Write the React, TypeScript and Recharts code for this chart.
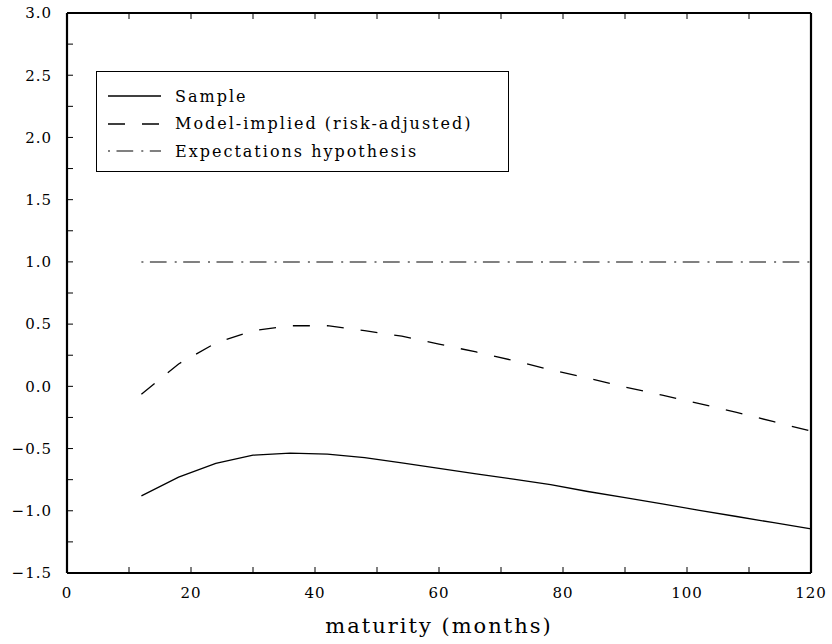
import { LineChart, Line, XAxis, YAxis, Legend } from "recharts";

const MATURITY = [12, 18, 24, 30, 36, 42, 48, 54, 60, 66, 72, 78, 84, 90, 96, 102, 108, 114, 120];
const SAMPLE = [-0.88, -0.73, -0.62, -0.553, -0.537, -0.545, -0.573, -0.615, -0.66, -0.704, -0.745, -0.79, -0.845, -0.895, -0.945, -0.996, -1.046, -1.096, -1.146];
const MODEL = [-0.063, 0.18, 0.348, 0.447, 0.487, 0.487, 0.447, 0.403, 0.339, 0.276, 0.207, 0.133, 0.066, -0.006, -0.071, -0.139, -0.21, -0.284, -0.36];
const EXPECTATIONS = [1, 1, 1, 1, 1, 1, 1, 1, 1, 1, 1, 1, 1, 1, 1, 1, 1, 1, 1];

const X_TICKS = [0, 10, 20, 30, 40, 50, 60, 70, 80, 90, 100, 110, 120];
const Y_TICKS = [-1.5, -1.25, -1, -0.75, -0.5, -0.25, 0, 0.25, 0.5, 0.75, 1, 1.25, 1.5, 1.75, 2, 2.25, 2.5, 2.75, 3];

const SERIES = [
  { key: "sample", name: "Sample", color: "#000", width: 1.3, dash: undefined as string | undefined },
  { key: "model", name: "Model-implied (risk-adjusted)", color: "#000", width: 1.3, dash: "17 17" },
  { key: "eh", name: "Expectations hypothesis", color: "#808080", width: 2, dash: "2 6.5 16.7 8.1" },
];

const FONT = "'DejaVu Serif', serif";

const data = MATURITY.map((m, i) => ({
  m,
  sample: SAMPLE[i],
  model: MODEL[i],
  eh: EXPECTATIONS[i],
}));

const fmtX = (v: number) => (v % 20 === 0 ? String(v) : "");
const fmtY = (v: number) =>
  Math.abs(v * 2 - Math.round(v * 2)) < 1e-9 ? v.toFixed(1).replace("-", "\u2212") : "";
const blank = () => "";

const axisLine = { stroke: "#000", strokeWidth: 2.2 };
const tickLine = { stroke: "#000", strokeWidth: 1 };
const tickStyle = { fill: "#000", fontSize: 15, fontFamily: FONT, letterSpacing: 1 };

function LegendBox() {
  return (
    <div
      style={{
        width: 411,
        height: 99,
        border: "1px solid #000",
        background: "#fff",
        fontFamily: FONT,
        fontSize: 16,
        letterSpacing: 2,
        color: "#000",
        position: "relative",
      }}
    >
      {SERIES.map((s, i) => (
        <div
          key={s.key}
          style={{ position: "absolute", left: 10, top: 14 + i * 27.5, height: 20, display: "flex", alignItems: "center" }}
        >
          <svg width={56} height={20}>
            <line x1={1} y1={10} x2={54} y2={10} stroke={s.color} strokeWidth={s.width} strokeDasharray={s.dash} />
          </svg>
          <span style={{ marginLeft: 12, whiteSpace: "nowrap" }}>{s.name}</span>
        </div>
      ))}
    </div>
  );
}

export default function App() {
  return (
    <div style={{ position: "absolute", left: 0, top: 0, width: 832, height: 644, background: "#fff" }}>
      <LineChart width={832} height={644} data={data} margin={{ top: 12, right: 20, bottom: 41, left: 0 }}>
        <XAxis
          dataKey="m"
          type="number"
          domain={[0, 120]}
          ticks={X_TICKS}
          tickFormatter={fmtX}
          stroke="#000"
          tickSize={-6}
          tickMargin={20}
          height={30}
          axisLine={axisLine}
          tickLine={tickLine}
          tick={tickStyle}
          interval={0}
          label={{
            value: "maturity (months)",
            position: "bottom",
            offset: 15,
            style: { fill: "#000", fontSize: 21, fontFamily: FONT, letterSpacing: 2, textAnchor: "middle" },
          }}
        />
        <XAxis
          xAxisId="top"
          orientation="top"
          dataKey="m"
          type="number"
          domain={[0, 120]}
          ticks={X_TICKS}
          tickFormatter={blank}
          stroke="#000"
          tickSize={-6}
          height={1}
          axisLine={axisLine}
          tickLine={tickLine}
          interval={0}
        />
        <YAxis
          type="number"
          domain={[-1.5, 3]}
          ticks={Y_TICKS}
          tickFormatter={fmtY}
          stroke="#000"
          tickSize={-6}
          tickMargin={21}
          width={67}
          axisLine={axisLine}
          tickLine={tickLine}
          tick={tickStyle}
          interval={0}
        />
        <YAxis
          yAxisId="right"
          orientation="right"
          type="number"
          domain={[-1.5, 3]}
          ticks={Y_TICKS}
          tickFormatter={blank}
          stroke="#000"
          tickSize={-6}
          width={1}
          axisLine={axisLine}
          tickLine={tickLine}
          interval={0}
        />
        <Legend
          layout="vertical"
          align="center"
          verticalAlign="middle"
          content={() => <LegendBox />}
          wrapperStyle={{ left: 96, top: 71, width: 413, height: 101 }}
        />
        {SERIES.map((s) => (
          <Line
            key={s.key}
            dataKey={s.key}
            name={s.name}
            type="linear"
            stroke={s.color}
            strokeWidth={s.width}
            strokeDasharray={s.dash}
            dot={false}
            activeDot={false}
            isAnimationActive={false}
          />
        ))}
      </LineChart>
    </div>
  );
}
